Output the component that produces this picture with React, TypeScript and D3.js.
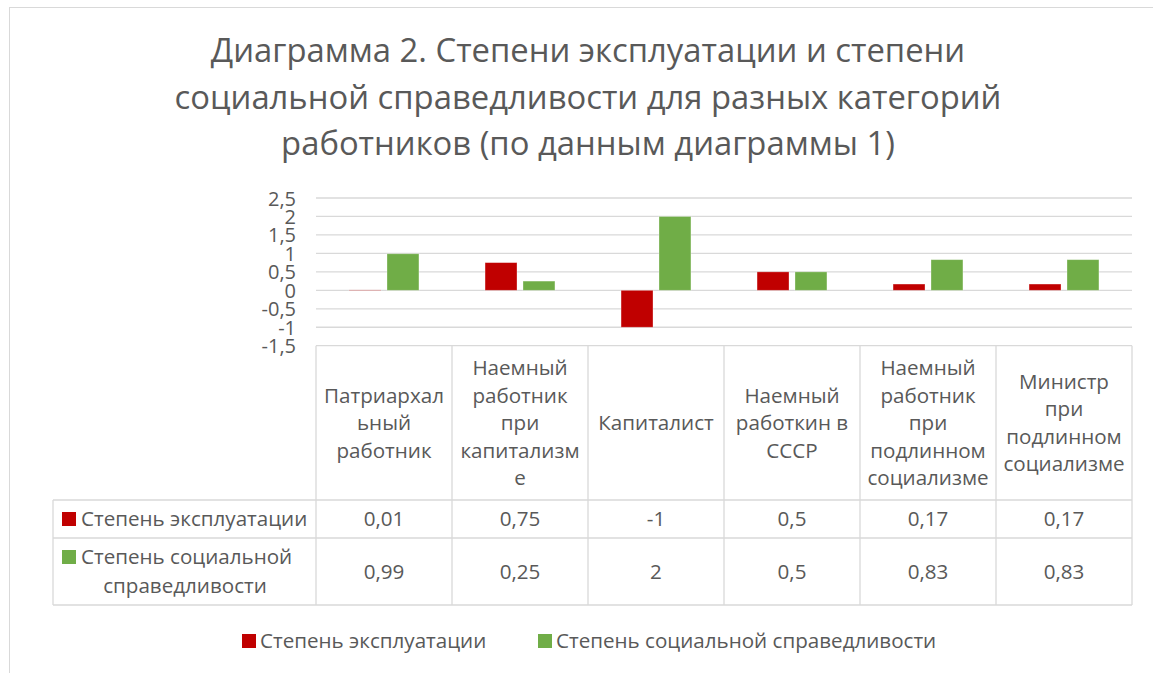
import * as d3 from "d3"
import { useRef, useEffect } from "react"

const titleLines = [
  "Диаграмма 2. Степени эксплуатации и степени",
  "социальной справедливости для разных категорий",
  "работников (по данным диаграммы 1)",
]

const categories = [
  "Патриархальный работник",
  "Наемный работник при капитализме",
  "Капиталист",
  "Наемный работкин в СССР",
  "Наемный работник при подлинном социализме",
  "Министр при подлинном социализме",
]

// how the category names wrap inside the table header
const categoryLines = [
  ["Патриархал", "ьный", "работник"],
  ["Наемный", "работник", "при", "капитализм", "е"],
  ["Капиталист"],
  ["Наемный", "работкин в", "СССР"],
  ["Наемный", "работник", "при", "подлинном", "социализме"],
  ["Министр", "при", "подлинном", "социализме"],
]

const exploitation = [0.01, 0.75, -1, 0.5, 0.17, 0.17]
const justice = [0.99, 0.25, 2, 0.5, 0.83, 0.83]

const seriesNames = ["Степень эксплуатации", "Степень социальной справедливости"]
const seriesKeys = ["exploitation", "justice"]
const colors: { [k: string]: string } = { exploitation: "#C00000", justice: "#70AD47" }

const yTicks = [-1.5, -1, -0.5, 0, 0.5, 1, 1.5, 2, 2.5]

const data = categories.map((c, i) => ({ category: c, exploitation: exploitation[i], justice: justice[i] }))

const FONT = "'Open Sans', sans-serif"
const TEXT = "#595959"
const GRID = "#D9D9D9"
const FS = "20.6px"

const fmt = (v: number) => String(v).replace(".", ",")

export default function App() {
  const svgRef = useRef<SVGSVGElement>(null)

  useEffect(() => {
    if (!svgRef.current) return
    const width = 1153
    const height = 673
    const plot = { left: 316, right: 1132, top: 198, bottom: 345.7 }
    const table = { left: 53, headerBottom: 500, row1Bottom: 538, bottom: 605 }

    const svg = d3.select(svgRef.current)
    svg.selectAll("*").remove()
    svg.attr("width", width).attr("height", height).attr("viewBox", `0 0 ${width} ${height}`)

    svg
      .append("rect")
      .attr("x", 9.5)
      .attr("y", 7.5)
      .attr("width", 1160)
      .attr("height", 720)
      .attr("fill", "#fff")
      .attr("stroke", GRID)

    // title
    svg
      .append("g")
      .selectAll("text")
      .data(titleLines)
      .enter()
      .append("text")
      .attr("x", 588)
      .attr("y", (_d, i) => 62 + i * 46.5)
      .attr("text-anchor", "middle")
      .style("font-family", FONT)
      .style("font-size", "32.8px")
      .style("fill", TEXT)
      .text((d) => d)

    const xScale = d3.scaleBand().domain(categories).range([plot.left, plot.right]).padding(0)
    const bw = xScale.bandwidth()
    const xInner = d3
      .scaleBand()
      .domain(seriesKeys)
      .range([bw * 0.243, bw * 0.757])
      .paddingInner(0.158)

    const yScale = d3.scaleLinear().domain([-1.5, 2.5]).range([plot.bottom, plot.top])

    // grid
    svg
      .append("g")
      .selectAll("line")
      .data(yTicks)
      .enter()
      .append("line")
      .attr("x1", plot.left)
      .attr("x2", plot.right)
      .attr("y1", (d) => yScale(d))
      .attr("y2", (d) => yScale(d))
      .attr("stroke", GRID)
      .attr("stroke-width", 1.3)

    svg
      .append("g")
      .attr("transform", `translate(${plot.left - 20},0)`)
      .call(d3.axisLeft(yScale).tickValues(yTicks).tickSize(0).tickFormat((d) => fmt(d as number)))
      .call((g) => g.select(".domain").remove())
      .call((g) =>
        g
          .selectAll("text")
          .attr("x", 0)
          .attr("dy", "0.35em")
          .style("font-size", "20px")
          .style("font-family", FONT)
          .style("fill", TEXT),
      )

    // bars
    seriesKeys.forEach((key) => {
      svg
        .append("g")
        .selectAll("rect")
        .data(data)
        .enter()
        .append("rect")
        .attr("x", (d) => (xScale(d.category) ?? 0) + (xInner(key) ?? 0))
        .attr("width", xInner.bandwidth())
        .attr("y", (d) => yScale(Math.max(0, d[key as "justice"])))
        .attr("height", (d) => Math.abs(yScale(d[key as "justice"]) - yScale(0)))
        .attr("fill", colors[key])
        .attr("stroke", "#fff")
        .attr("stroke-opacity", 0.4)
        .attr("stroke-width", 0.8)
    })

    // data table
    const tg = svg.append("g").attr("stroke", GRID).attr("stroke-width", 1.3)
    ;[table.headerBottom, table.row1Bottom, table.bottom].forEach((y) =>
      tg.append("line").attr("x1", table.left).attr("x2", plot.right).attr("y1", y).attr("y2", y),
    )
    tg.append("line")
      .attr("x1", table.left)
      .attr("x2", table.left)
      .attr("y1", table.headerBottom)
      .attr("y2", table.bottom)
    tg.selectAll(".col")
      .data([...categories.map((c) => xScale(c) ?? 0), plot.right])
      .enter()
      .append("line")
      .attr("x1", (d) => d)
      .attr("x2", (d) => d)
      .attr("y1", plot.bottom)
      .attr("y2", table.bottom)

    const headerMid = (plot.bottom + table.headerBottom) / 2
    const lineH = 27.5
    categoryLines.forEach((lines, i) => {
      const cx = (xScale(categories[i]) ?? 0) + bw / 2
      svg
        .append("g")
        .selectAll("text")
        .data(lines)
        .enter()
        .append("text")
        .attr("x", cx)
        .attr("y", (_d, j) => headerMid + (j - (lines.length - 1) / 2) * lineH)
        .attr("dy", "0.35em")
        .attr("text-anchor", "middle")
        .style("font-family", FONT)
        .style("font-size", FS)
        .style("fill", TEXT)
        .text((d) => d)
    })

    const rowMids = [519, 572]
    seriesKeys.forEach((key, r) => {
      svg
        .append("g")
        .selectAll("text")
        .data(data)
        .enter()
        .append("text")
        .attr("x", (d) => (xScale(d.category) ?? 0) + bw / 2)
        .attr("y", rowMids[r])
        .attr("dy", "0.35em")
        .attr("text-anchor", "middle")
        .style("font-family", FONT)
        .style("font-size", FS)
        .style("fill", TEXT)
        .text((d) => fmt(d[key as "justice"]))
    })

    // row headers with legend keys
    const rowLabel = (x: number, y: number, txt: string, anchor = "start") =>
      svg
        .append("text")
        .attr("x", x)
        .attr("y", y)
        .attr("dy", "0.35em")
        .attr("text-anchor", anchor)
        .style("font-family", FONT)
        .style("font-size", FS)
        .style("fill", TEXT)
        .text(txt)
    svg.append("rect").attr("x", 62).attr("y", 512).attr("width", 14).attr("height", 14).attr("fill", colors.exploitation)
    rowLabel(81, 519, seriesNames[0])
    svg.append("rect").attr("x", 62).attr("y", 550).attr("width", 14).attr("height", 14).attr("fill", colors.justice)
    rowLabel(81, 557, "Степень социальной")
    rowLabel(185, 586, "справедливости", "middle")

    // legend
    const legendX = [242, 538]
    seriesKeys.forEach((key, i) => {
      svg
        .append("rect")
        .attr("x", legendX[i])
        .attr("y", 634)
        .attr("width", 14)
        .attr("height", 14)
        .attr("fill", colors[key])
      rowLabel(legendX[i] + 18, 641, seriesNames[i])
    })
  }, [])

  return (
    <div style={{ position: "absolute", left: 0, top: 0 }}>
      <svg ref={svgRef}></svg>
    </div>
  )
}
